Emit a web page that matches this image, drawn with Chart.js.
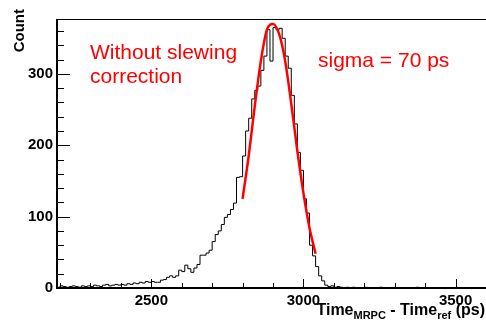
<!DOCTYPE html>
<html>
<head>
<meta charset="utf-8">
<script src="https://cdn.jsdelivr.net/npm/chart.js@4"></script>
<style>
  html, body { margin: 0; padding: 0; background: #fff; }
</style>
</head>
<body>
<canvas id="chart" width="486" height="323"></canvas>
<script>
"use strict";

// Histogram of Time_MRPC - Time_ref, lower edge of first bin and bin width in ps
const binStart = 2190;
const binWidth = 10;
const counts = [
  1, 3, 2, 1, 2, 3, 2, 1, 3, 2,
  3, 2, 4, 3, 2, 4, 5, 3, 4, 5,
  4, 5, 4, 6, 5, 7, 6, 8, 7, 9,
  8, 9, 8, 8, 11, 12, 15, 17, 15, 17,
  25, 23, 32, 27, 22, 28, 33, 46, 46, 49,
  53, 65, 75, 80, 89, 99, 103, 110, 119, 155,
  156, 185, 220, 238, 265, 277, 283, 305, 325, 362,
  318, 365, 362, 364, 350, 325, 308, 270, 230, 190,
  165, 125, 105, 60, 45, 30, 17, 10, 4, 2,
  3, 1, 2, 1, 0, 1, 0, 1, 0, 0,
  0, 1, 0, 0, 0, 0, 1, 0, 0, 0,
  0, 0, 0, 0, 0, 0, 0, 0, 1, 0,
  0, 0, 0, 0, 0, 0, 0, 0, 0, 0,
  0, 0, 0, 0, 0, 0, 0, 0, 0, 0,
  0
];

// Gaussian fit curve
const fitTimes = [2800, 2820, 2840, 2860, 2880, 2900, 2920, 2940, 2960, 2980, 3000, 3020, 3040];
const fitCounts = [125, 185, 255, 318, 362, 370, 356, 318, 258, 192, 133, 84, 48];

// Axis ticks
const xTickValues = [2500, 3000, 3500];
const yTickValues = [0, 100, 200, 300];

const FONT = '"Liberation Sans", Arial, Helvetica, sans-serif';

// step line points: one per lower bin edge, plus the last upper edge
const histPoints = counts.map((c, i) => ({ x: binStart + i * binWidth, y: c }));
histPoints.push({ x: binStart + counts.length * binWidth, y: counts[counts.length - 1] });

const fitPoints = fitTimes.map((t, i) => ({ x: t, y: fitCounts[i] }));

// ROOT style frame with ticks pointing inwards
const frameTicks = {
  id: 'frameTicks',
  afterDatasetsDraw(chart) {
    const { ctx, chartArea: a, scales: { x, y } } = chart;
    ctx.save();
    ctx.strokeStyle = '#000';
    ctx.lineWidth = 1;
    ctx.beginPath();
    for (let v = 2200; v <= 3600; v += 100) {
      const px = Math.round(x.getPixelForValue(v)) + 0.5;
      const len = v % 500 === 0 ? 9 : 5;
      ctx.moveTo(px, a.bottom);
      ctx.lineTo(px, a.bottom - len);
    }
    for (let v = 0; v <= 370; v += 20) {
      const py = Math.round(y.getPixelForValue(v)) + 0.5;
      const len = v % 100 === 0 ? 13 : 7;
      ctx.moveTo(a.left, py);
      ctx.lineTo(a.left + len, py);
    }
    ctx.stroke();

    // frame
    ctx.beginPath();
    ctx.moveTo(a.right, a.top + 0.5);
    ctx.lineTo(a.left, a.top + 0.5);
    ctx.stroke();
    ctx.lineWidth = 2;
    ctx.beginPath();
    ctx.moveTo(a.left, a.top);
    ctx.lineTo(a.left, a.bottom);
    ctx.lineTo(a.right, a.bottom);
    ctx.stroke();
    ctx.restore();
  }
};

// titles and annotations
const textLayer = {
  id: 'textLayer',
  afterDraw(chart) {
    const { ctx } = chart;
    ctx.save();

    // y title
    ctx.fillStyle = '#000';
    ctx.font = 'bold 15px ' + FONT;
    ctx.translate(24, 9);
    ctx.rotate(-Math.PI / 2);
    ctx.textAlign = 'right';
    ctx.textBaseline = 'alphabetic';
    ctx.fillText('Count', 0, 0);
    ctx.setTransform(1, 0, 0, 1, 0, 0);

    // x title with subscripts, right aligned
    const parts = [
      { t: 'Time', sub: false },
      { t: 'MRPC', sub: true },
      { t: ' - Time', sub: false },
      { t: 'ref', sub: true },
      { t: ' (ps)', sub: false }
    ];
    const mainFont = 'bold 16px ' + FONT;
    const subFont = 'bold 11px ' + FONT;
    let total = 0;
    parts.forEach(p => {
      ctx.font = p.sub ? subFont : mainFont;
      p.w = ctx.measureText(p.t).width;
      total += p.w;
    });
    let cx = 485 - total;
    ctx.textAlign = 'left';
    parts.forEach(p => {
      ctx.font = p.sub ? subFont : mainFont;
      ctx.fillText(p.t, cx, p.sub ? 319 : 315);
      cx += p.w;
    });

    // red annotations
    ctx.fillStyle = '#ff0000';
    ctx.font = '21px ' + FONT;
    ctx.fillText('Without slewing', 90, 59);
    ctx.fillText('correction', 90, 83);
    ctx.fillText('sigma = 70 ps', 318, 67);
    ctx.restore();
  }
};

new Chart(document.getElementById('chart'), {
  type: 'line',
  data: {
    datasets: [
      {
        label: 'fit',
        data: fitPoints,
        borderColor: '#ff0000',
        borderWidth: 2.5,
        pointRadius: 0,
        cubicInterpolationMode: 'monotone',
        order: 0
      },
      {
        label: 'histogram',
        data: histPoints,
        borderColor: '#000',
        borderWidth: 1,
        pointRadius: 0,
        stepped: 'before',
        order: 1
      }
    ]
  },
  options: {
    responsive: false,
    animation: false,
    devicePixelRatio: 1,
    layout: { padding: { top: 19, right: 0, left: 0, bottom: 0 } },
    plugins: {
      legend: { display: false },
      tooltip: { enabled: false }
    },
    scales: {
      x: {
        type: 'linear',
        min: binStart,
        max: 3600,
        border: { display: false },
        grid: { display: false, drawTicks: false },
        afterBuildTicks: scale => { scale.ticks = xTickValues.map(v => ({ value: v })); },
        afterFit: scale => { scale.height = 35; },
        ticks: {
          padding: 4,
          maxRotation: 0,
          color: '#000',
          callback: v => String(v),
          font: { family: FONT, size: 15, weight: 'bold' }
        }
      },
      y: {
        type: 'linear',
        min: 0,
        max: 377,
        border: { display: false },
        grid: { display: false, drawTicks: false },
        afterBuildTicks: scale => { scale.ticks = yTickValues.map(v => ({ value: v })); },
        afterFit: scale => { scale.width = 57; },
        ticks: {
          padding: 4,
          color: '#000',
          callback: v => String(v),
          font: { family: FONT, size: 15, weight: 'bold' }
        }
      }
    }
  },
  plugins: [frameTicks, textLayer]
});
</script>
</body>
</html>
